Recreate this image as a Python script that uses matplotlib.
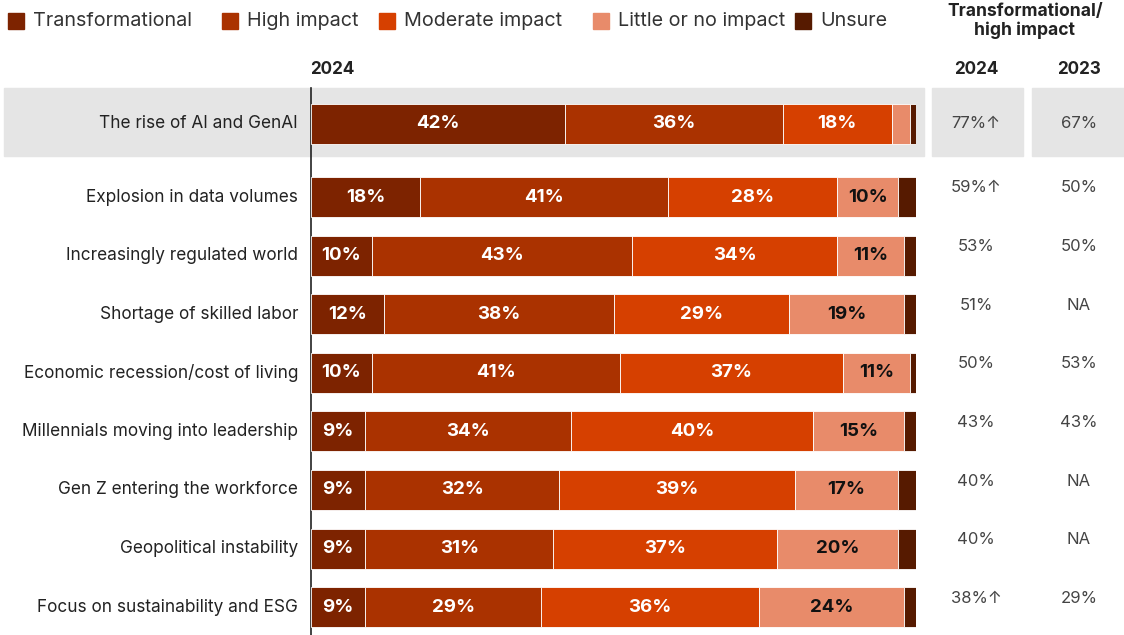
"""Impact of trends: stacked horizontal bars with side columns."""
import matplotlib.pyplot as plt
from matplotlib.patches import Rectangle

plt.rcParams["font.family"] = ["Inter", "DejaVu Sans"]

categories = [
    "The rise of AI and GenAI",
    "Explosion in data volumes",
    "Increasingly regulated world",
    "Shortage of skilled labor",
    "Economic recession/cost of living",
    "Millennials moving into leadership",
    "Gen Z entering the workforce",
    "Geopolitical instability",
    "Focus on sustainability and ESG",
]
series_names = ["Transformational", "High impact", "Moderate impact",
                "Little or no impact", "Unsure"]
transformational = [42, 18, 10, 12, 10, 9, 9, 9, 9]
high_impact = [36, 41, 43, 38, 41, 34, 32, 31, 29]
moderate_impact = [18, 28, 34, 29, 37, 40, 39, 37, 36]
little_impact = [3, 10, 11, 19, 11, 15, 17, 20, 24]
unsure = [1, 3, 2, 2, 1, 2, 3, 3, 2]
top_2024 = ["77%\u2191", "59%\u2191", "53%", "51%", "50%", "43%", "40%", "40%", "38%\u2191"]
top_2023 = ["67%", "50%", "50%", "NA", "53%", "43%", "NA", "NA", "29%"]

colors = ["#7d2300", "#aa3200", "#d64000", "#e88b6a", "#561a00"]
label_colors = ["white", "white", "white", "#111111", "white"]

W, H = 1124, 635
fig = plt.figure(figsize=(W / 100, H / 100), dpi=100)

# background / text layer in pixel units
bg = fig.add_axes([0, 0, 1, 1])
bg.set_xlim(0, W)
bg.set_ylim(H, 0)
bg.axis("off")

# bar layer: x in percent
x0, x1 = 311, 916
ax = fig.add_axes([x0 / W, 0, (x1 - x0) / W, 1])
ax.set_xlim(0, 100)
ax.set_ylim(H, 0)
ax.axis("off")
ax.patch.set_alpha(0)

row_y = [124] + [197 + 58.6 * i for i in range(len(categories) - 1)]
bar_h = 40

# highlight band for the first row
bg.add_patch(Rectangle((4, 88), 920, 68, color="#e5e5e5", zorder=0))
bg.add_patch(Rectangle((932, 88), 91, 68, color="#e5e5e5", zorder=0))
bg.add_patch(Rectangle((1032, 88), 92, 68, color="#e5e5e5", zorder=0))

series = [transformational, high_impact, moderate_impact, little_impact, unsure]
left = [0] * len(categories)
for name, vals, col, tcol in zip(series_names, series, colors, label_colors):
    ax.barh(row_y, vals, left=left, height=bar_h, color=col,
            edgecolor="white", linewidth=0.6, zorder=2)
    for y, v, l in zip(row_y, vals, left):
        if v >= 5:
            ax.text(l + v / 2, y, f"{v}%", ha="center", va="center",
                    color=tcol, fontsize=13.5, fontweight="bold", zorder=3)
    left = [a + b for a, b in zip(left, vals)]

# vertical baseline
bg.plot([x0, x0], [88, H], color="#222222", linewidth=1.2, zorder=4)

# category labels and side columns
for i, (y, cat, a, b) in enumerate(zip(row_y, categories, top_2024, top_2023)):
    bg.text(298, y, cat, ha="right", va="center", fontsize=12.4, color="#222222")
    dy = 0 if i == 0 else -9
    bg.text(976, y + dy, a, ha="center", va="center", fontsize=12, color="#444444")
    bg.text(1079, y + dy, b, ha="center", va="center", fontsize=12, color="#444444")

# headers
bg.text(332, 70, "2024", ha="center", va="center", fontsize=12.3,
        fontweight="bold", color="#222222")
bg.text(1025, 21, "Transformational/\nhigh impact", ha="center", va="center",
        fontsize=12.6, fontweight="bold", color="#222222", linespacing=1.1)
bg.text(976, 69, "2024", ha="center", va="center", fontsize=12.3,
        fontweight="bold", color="#222222")
bg.text(1079, 69, "2023", ha="center", va="center", fontsize=12.3,
        fontweight="bold", color="#222222")

# legend
legend_x = [8, 222, 379, 593, 795]
for lx, name, col in zip(legend_x, series_names, colors):
    bg.add_patch(Rectangle((lx, 13), 16, 16, color=col))
    bg.text(lx + 25, 21, name, ha="left", va="center", fontsize=14.2, color="#333333")

fig.savefig("out.png", dpi=100)
